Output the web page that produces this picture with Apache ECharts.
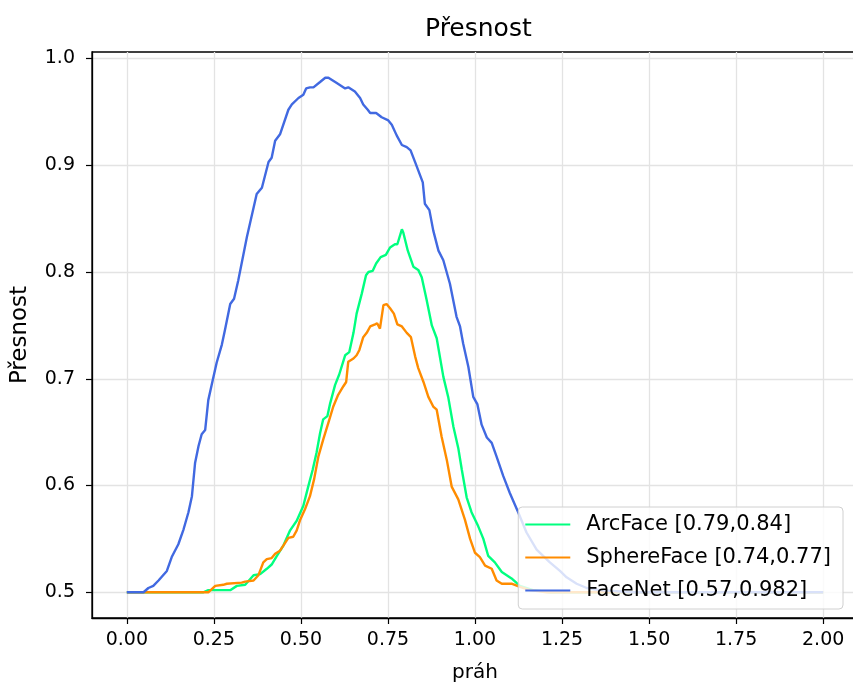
<!DOCTYPE html>
<html>
<head>
<meta charset="utf-8">
<script src="https://cdn.jsdelivr.net/npm/echarts@6/dist/echarts.min.js"></script>
<style>
  html, body { margin: 0; padding: 0; background: #fff; overflow: hidden; }
  #chart { width: 860px; height: 688px; }
</style>
</head>
<body>
<div id="chart"></div>
<script>
// Accuracy vs. threshold for three face-recognition models
const arcFaceX = [0, 0.220, 0.234, 0.297, 0.316, 0.340, 0.364, 0.383, 0.402, 0.416, 0.431, 0.450, 0.469, 0.488, 0.507, 0.521, 0.534, 0.545, 0.555, 0.564, 0.576, 0.584, 0.598, 0.610, 0.627, 0.639, 0.651, 0.660, 0.675, 0.687, 0.694, 0.706, 0.716, 0.729, 0.744, 0.756, 0.770, 0.777, 0.790, 0.794, 0.807, 0.823, 0.837, 0.847, 0.861, 0.876, 0.890, 0.909, 0.923, 0.938, 0.952, 0.962, 0.976, 0.990, 1.009, 1.024, 1.038, 1.057, 1.077, 1.105, 1.129, 1.167, 1.215, 2.0];
const arcFaceY = [0.5, 0.5, 0.502, 0.502, 0.506, 0.507, 0.516, 0.517, 0.522, 0.526, 0.534, 0.544, 0.558, 0.567, 0.581, 0.599, 0.615, 0.631, 0.649, 0.662, 0.665, 0.677, 0.694, 0.704, 0.722, 0.725, 0.743, 0.761, 0.780, 0.797, 0.800, 0.801, 0.808, 0.814, 0.816, 0.823, 0.826, 0.826, 0.840, 0.837, 0.820, 0.805, 0.802, 0.795, 0.774, 0.750, 0.738, 0.702, 0.683, 0.655, 0.635, 0.615, 0.589, 0.575, 0.562, 0.550, 0.534, 0.528, 0.519, 0.513, 0.506, 0.502, 0.5, 0.5];

const sphereFaceX = [0, 0.234, 0.254, 0.277, 0.287, 0.330, 0.340, 0.364, 0.378, 0.392, 0.402, 0.416, 0.426, 0.440, 0.450, 0.464, 0.478, 0.488, 0.498, 0.512, 0.526, 0.538, 0.550, 0.564, 0.579, 0.593, 0.607, 0.622, 0.630, 0.636, 0.651, 0.660, 0.668, 0.679, 0.689, 0.699, 0.713, 0.719, 0.727, 0.737, 0.740, 0.746, 0.756, 0.767, 0.777, 0.790, 0.804, 0.816, 0.828, 0.837, 0.852, 0.866, 0.880, 0.890, 0.904, 0.919, 0.933, 0.952, 0.971, 0.986, 1.000, 1.014, 1.029, 1.048, 1.062, 1.077, 1.105, 1.129, 1.158, 1.206, 2.0];
const sphereFaceY = [0.5, 0.5, 0.506, 0.507, 0.508, 0.509, 0.510, 0.511, 0.516, 0.528, 0.531, 0.532, 0.536, 0.539, 0.544, 0.551, 0.552, 0.558, 0.568, 0.578, 0.590, 0.606, 0.627, 0.643, 0.659, 0.674, 0.685, 0.693, 0.697, 0.716, 0.719, 0.722, 0.727, 0.739, 0.743, 0.749, 0.751, 0.752, 0.747, 0.769, 0.770, 0.770, 0.766, 0.761, 0.751, 0.749, 0.743, 0.739, 0.721, 0.710, 0.697, 0.683, 0.674, 0.671, 0.646, 0.624, 0.599, 0.587, 0.568, 0.550, 0.537, 0.533, 0.525, 0.522, 0.511, 0.508, 0.508, 0.505, 0.502, 0.5, 0.5];

const faceNetX = [0, 0.048, 0.062, 0.076, 0.091, 0.115, 0.129, 0.148, 0.163, 0.177, 0.187, 0.196, 0.206, 0.215, 0.225, 0.234, 0.247, 0.258, 0.273, 0.282, 0.297, 0.308, 0.320, 0.345, 0.373, 0.388, 0.407, 0.416, 0.426, 0.440, 0.464, 0.474, 0.493, 0.507, 0.515, 0.526, 0.536, 0.555, 0.570, 0.579, 0.603, 0.627, 0.636, 0.655, 0.670, 0.679, 0.692, 0.699, 0.716, 0.732, 0.751, 0.761, 0.775, 0.790, 0.804, 0.815, 0.828, 0.850, 0.856, 0.869, 0.880, 0.895, 0.909, 0.928, 0.947, 0.957, 0.966, 0.981, 0.995, 1.007, 1.019, 1.034, 1.048, 1.062, 1.081, 1.100, 1.124, 1.148, 1.177, 1.215, 1.244, 1.263, 1.292, 1.321, 1.359, 1.407, 1.450, 2.0];
const faceNetY = [0.5, 0.5, 0.504, 0.506, 0.511, 0.520, 0.533, 0.545, 0.559, 0.575, 0.590, 0.621, 0.637, 0.648, 0.652, 0.680, 0.699, 0.715, 0.732, 0.746, 0.770, 0.775, 0.792, 0.833, 0.873, 0.879, 0.903, 0.907, 0.923, 0.929, 0.952, 0.957, 0.963, 0.966, 0.972, 0.973, 0.973, 0.978, 0.982, 0.982, 0.977, 0.972, 0.973, 0.969, 0.963, 0.957, 0.952, 0.949, 0.949, 0.945, 0.942, 0.938, 0.928, 0.919, 0.917, 0.914, 0.903, 0.884, 0.864, 0.858, 0.839, 0.820, 0.811, 0.789, 0.758, 0.749, 0.733, 0.711, 0.683, 0.676, 0.657, 0.645, 0.640, 0.627, 0.609, 0.593, 0.575, 0.556, 0.540, 0.528, 0.520, 0.514, 0.508, 0.504, 0.502, 0.501, 0.5, 0.5];

const seriesNames = ['ArcFace [0.79,0.84]', 'SphereFace [0.74,0.77]', 'FaceNet [0.57,0.982]'];
const seriesColors = ['#00ff7f', '#ff8c00', '#4169e1'];
const xTicks = [0, 0.25, 0.5, 0.75, 1.0, 1.25, 1.5, 1.75, 2.0];
const yTicks = [0.5, 0.6, 0.7, 0.8, 0.9, 1.0];

const FONT = 'DejaVu Sans';
const zip = (xs, ys) => xs.map((x, i) => [x, ys[i]]);

const chart = echarts.init(document.getElementById('chart'), null, { renderer: 'canvas' });

const lineSeries = (name, color, data) => ({
  name,
  type: 'line',
  data,
  showSymbol: false,
  symbol: 'none',
  animation: false,
  lineStyle: { color, width: 2.4 },
  itemStyle: { color },
  emphasis: { disabled: true }
});

chart.setOption({
  backgroundColor: '#fff',
  animation: false,
  title: {
    text: 'Přesnost',
    left: 420,
    top: 12,
    textStyle: { fontFamily: FONT, fontSize: 25, fontWeight: 'normal', color: '#000' }
  },
  grid: {
    left: 92, top: 52, right: 2, bottom: 69,
    show: true, borderColor: '#000', borderWidth: 1.3, containLabel: false
  },
  legend: {
    orient: 'vertical',
    right: 17,
    top: 507,
    padding: [7, 12, 8, 7],
    itemGap: 12,
    itemWidth: 45,
    itemHeight: 2,
    icon: 'rect',
    backgroundColor: 'rgba(255,255,255,0.8)',
    borderColor: '#d0d0d0',
    borderWidth: 1,
    borderRadius: 4,
    selectedMode: false,
    textStyle: { fontFamily: FONT, fontSize: 21, color: '#000', lineHeight: 20.5, padding: [0, 0, 0, 11] },
    data: seriesNames
  },
  xAxis: {
    type: 'value',
    min: -0.1,
    max: 2.1,
    name: 'práh',
    nameLocation: 'middle',
    nameGap: 45,
    nameTextStyle: { fontFamily: FONT, fontSize: 20, color: '#000' },
    axisLine: { show: true, onZero: false, lineStyle: { color: '#000', width: 1.3 } },
    axisTick: { show: true, length: 6, customValues: xTicks, lineStyle: { color: '#000', width: 1.2 } },
    axisLabel: {
      customValues: xTicks,
      margin: 13,
      fontFamily: FONT, fontSize: 19, color: '#000',
      formatter: v => v.toFixed(2)
    },
    splitLine: { show: true, lineStyle: { color: '#e3e3e3', width: 1.3 } }
  },
  yAxis: {
    type: 'value',
    min: 0.4759,
    max: 1.0061,
    name: 'Přesnost',
    nameLocation: 'middle',
    nameGap: 60,
    nameTextStyle: { fontFamily: FONT, fontSize: 23, color: '#000' },
    axisLine: { show: true, onZero: false, lineStyle: { color: '#000', width: 1.3 } },
    axisTick: { show: true, length: 6, customValues: yTicks, lineStyle: { color: '#000', width: 1.2 } },
    axisLabel: {
      customValues: yTicks,
      margin: 17,
      fontFamily: FONT, fontSize: 19, color: '#000',
      formatter: v => v.toFixed(1)
    },
    splitLine: { show: true, lineStyle: { color: '#e3e3e3', width: 1.3 } }
  },
  series: [
    lineSeries(seriesNames[0], seriesColors[0], zip(arcFaceX, arcFaceY)),
    lineSeries(seriesNames[1], seriesColors[1], zip(sphereFaceX, sphereFaceY)),
    lineSeries(seriesNames[2], seriesColors[2], zip(faceNetX, faceNetY))
  ]
});
</script>
</body>
</html>
